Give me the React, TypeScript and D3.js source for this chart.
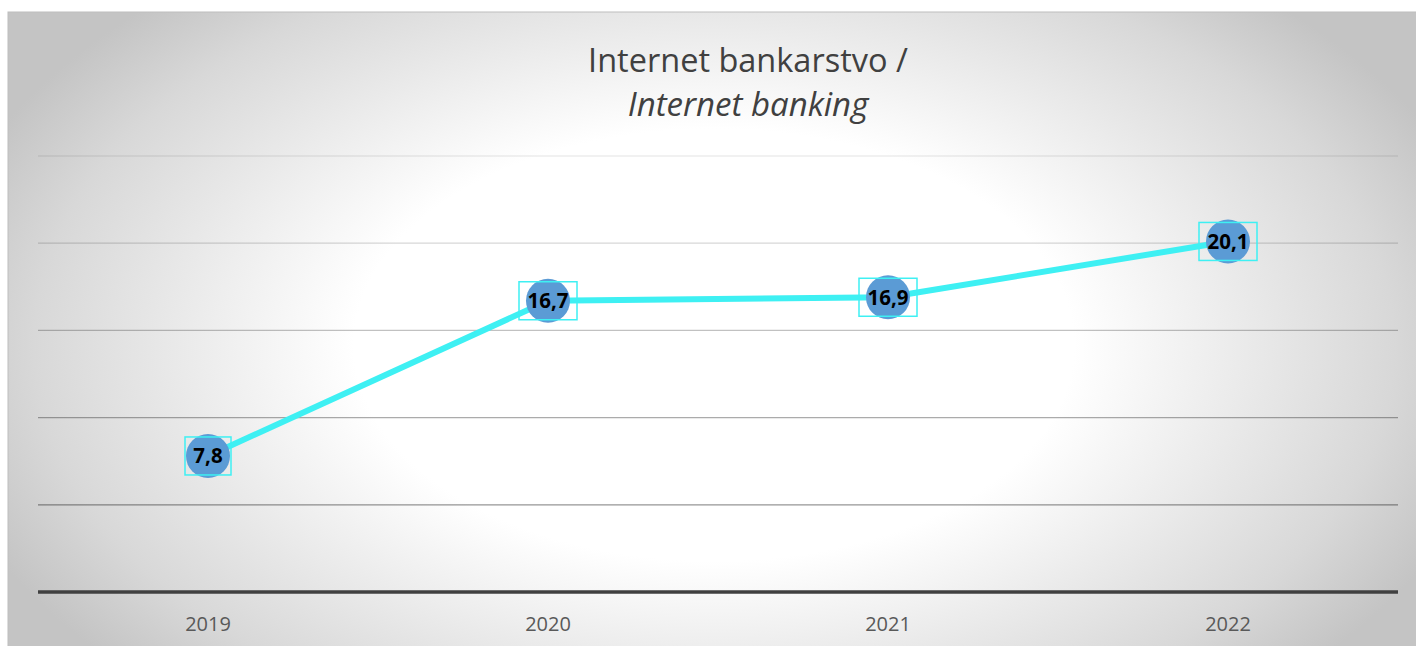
import React from "react";
import * as d3 from "d3";

const years = ["2019", "2020", "2021", "2022"];
const values = [7.8, 16.7, 16.9, 20.1];
const yTicks = [0, 5, 10, 15, 20, 25];
const titleLine1 = "Internet bankarstvo /";
const titleLine2 = "Internet banking";

const W = 1416;
const H = 646;

export default function App() {
  const x = d3.scaleBand<string>().domain(years).range([38, 1398]);
  const y = d3.scaleLinear().domain([0, 25]).range([592, 156]);
  const line = d3
    .line<number>()
    .x((_, i) => (x(years[i]) as number) + x.bandwidth() / 2)
    .y((d) => y(d));
  const gridOpacity = (t: number) => 0.5 - t * 0.017;
  const fmt = (v: number) => v.toFixed(1).replace(".", ",");

  return (
    <svg
      width={W}
      height={H}
      style={{ position: "fixed", left: 0, top: 0, display: "block" }}
      fontFamily="'Open Sans', sans-serif"
    >
      <defs>
        <radialGradient
          id="bg"
          gradientUnits="userSpaceOnUse"
          cx={714}
          cy={345}
          r={800}
          gradientTransform="translate(714,345) scale(1,0.6) translate(-714,-345)"
        >
          <stop offset="0" stopColor="#ffffff" />
          <stop offset="0.45" stopColor="#ffffff" />
          <stop offset="0.85" stopColor="#d8d8d8" />
          <stop offset="1" stopColor="#c4c4c4" />
        </radialGradient>
      </defs>
      <rect x={0} y={0} width={W} height={H} fill="#ffffff" />
      <rect x={8} y={12} width={1420} height={650} fill="url(#bg)" stroke="#bdbdbd" strokeWidth={1} />

      <text x={748} y={72} textAnchor="middle" fontSize={32.5} fill="#404040">
        {titleLine1}
      </text>
      <text x={748} y={116} textAnchor="middle" fontSize={33} fontStyle="italic" fill="#404040">
        {titleLine2}
      </text>

      {yTicks
        .filter((t) => t > 0)
        .map((t) => (
          <line
            key={t}
            x1={38}
            x2={1398}
            y1={y(t)}
            y2={y(t)}
            stroke="#000"
            strokeOpacity={gridOpacity(t)}
            strokeWidth={1.3}
          />
        ))}
      <line x1={38} x2={1398} y1={y(0)} y2={y(0)} stroke="#404040" strokeWidth={3.5} />

      {years.map((yr) => (
        <text
          key={yr}
          x={(x(yr) as number) + x.bandwidth() / 2}
          y={631}
          textAnchor="middle"
          fontSize={20}
          fill="#595959"
        >
          {yr}
        </text>
      ))}

      <path d={line(values) || ""} fill="none" stroke="#3ef0f3" strokeWidth={6} strokeLinejoin="round" />

      {values.map((v, i) => {
        const cx = (x(years[i]) as number) + x.bandwidth() / 2;
        const cy = y(v);
        const label = fmt(v);
        const bw = label.length > 3 ? 58 : 46;
        return (
          <g key={i}>
            <circle cx={cx} cy={cy} r={22} fill="#5b9bd5" />
            <rect
              x={cx - bw / 2}
              y={cy - 19}
              width={bw}
              height={38}
              fill="none"
              stroke="#3ef0f3"
              strokeWidth={1.5}
            />
            <text
              x={cx}
              y={cy + 7.5}
              textAnchor="middle"
              fontSize={20.5}
              fontWeight="bold"
              fill="#000"
            >
              {label}
            </text>
          </g>
        );
      })}
    </svg>
  );
}
